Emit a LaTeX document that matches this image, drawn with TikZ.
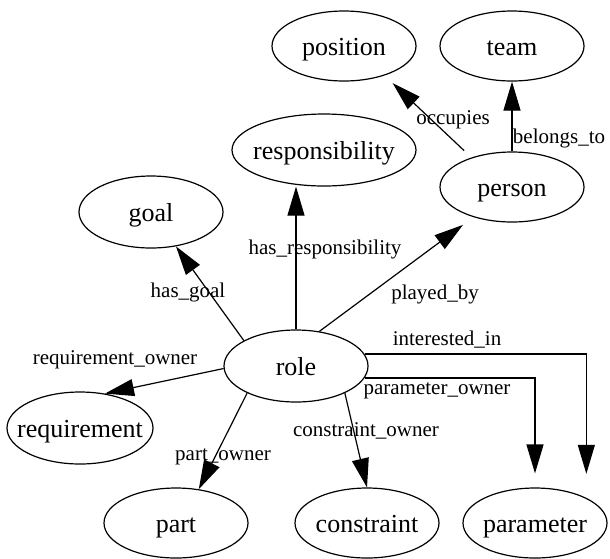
\documentclass[tikz,border=0pt]{standalone}
\usepackage{fontspec}
\setmainfont{Liberation Serif}
\usetikzlibrary{shapes.geometric,arrows.meta}
\begin{document}
\begin{tikzpicture}[x=1pt,y=-1pt,
  ent/.style={draw, ellipse, line width=1.2pt, inner sep=0pt,
    minimum width=144pt, minimum height=70pt,
    font=\fontsize{26}{30}\selectfont, text height=18pt, text depth=0pt},
  rel/.style={font=\fontsize{21}{25}\selectfont, inner sep=0pt,
    text height=14.5pt, text depth=0pt},
  link/.style={line width=1.2pt, -{Triangle[length=29pt,width=17pt]}},
]
\useasboundingbox (0,0) rectangle (610,558);

% entities
\node[ent] (position) at (344,46) {\makebox[0pt]{position}};
\node[ent] (team) at (512,46) {\makebox[0pt]{team}};
\node[ent, minimum width=184pt, minimum height=72pt] (responsibility) at (324,150) {\makebox[0pt]{responsibility}};
\node[ent] (person) at (512,187) {\makebox[0pt]{person}};
\node[ent, minimum height=72pt] (goal) at (151,212) {\makebox[0pt]{goal}};
\node[ent, minimum height=72pt] (role) at (296,366) {\makebox[0pt]{role}};
\node[ent, minimum width=146pt, minimum height=72pt] (requirement) at (80,428) {\makebox[0pt]{requirement}};
\node[ent] (part) at (176,523) {\makebox[0pt]{part}};
\node[ent] (constraint) at (367,523) {\makebox[0pt]{constraint}};
\node[ent] (parameter) at (535,523) {\makebox[0pt]{parameter}};

% relations
\draw[link] (role.154) -- (goal.306);
\draw[link] (role.north) -- (role.north |- responsibility.south);
\draw[link, shorten >=13pt] (role.56) -- (person.218);
\draw[link, shorten <=10pt, shorten >=11pt] (person.144.5) -- (position.324.5);
\draw[link] (person.north) -- (team.south);
\draw[link] (role.182) -- (requirement.54);
\draw[link] (role.209) -- (part.56);
\draw[link] (role.331) -- (constraint.north);
\draw[link, shorten >=14pt] (role.-10) -| (parameter.north);
\draw[link, shorten >=24pt] (role.10) -| (parameter.north east);

% relation labels
\node[rel] (lgoal) at (188,290) {has\_goal};
\node[rel] (lresp) at (325,247) {has\_responsibility};
\node[rel] (lplayed) at (435,292) {played\_by};
\node[rel] (loccupies) at (453,117) {occupies};
\node[rel] (lbelongs) at (559,136) {belongs\_to};
\node[rel] (lreq) at (115,357) {requirement\_owner};
\node[rel] (lpart) at (223,453) {part\_owner};
\node[rel] (lcons) at (366,429) {constraint\_owner};
\node[rel] (lparam) at (437,387) {parameter\_owner};
\node[rel] (linterest) at (447,338) {interested\_in};
\end{tikzpicture}
\end{document}
